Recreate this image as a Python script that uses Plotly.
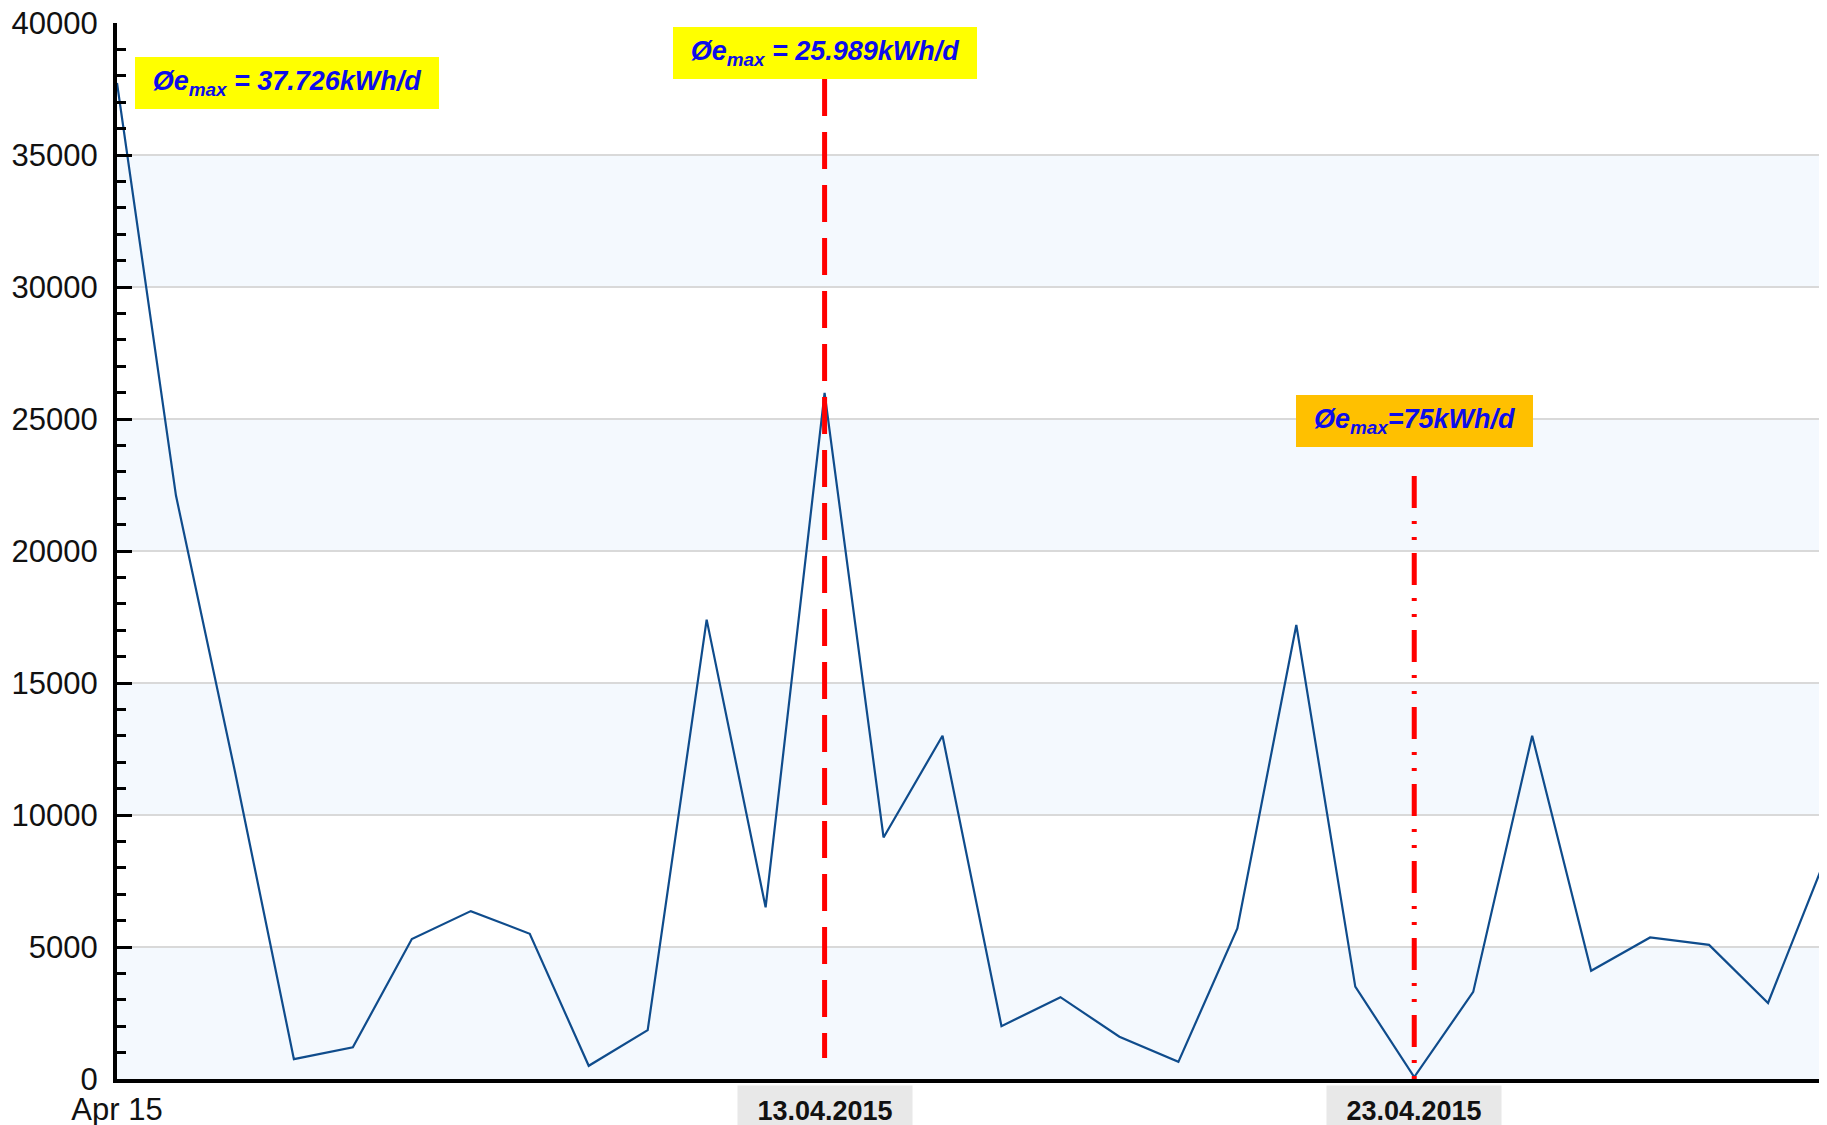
import plotly.graph_objects as go

# ---- data ----
dates = [f"2015-04-{d:02d}" for d in range(1, 31)]
energy = [37726, 22100, 11650, 750, 1200, 5300, 6360, 5500, 500, 1850,
          17400, 6500, 25989, 9150, 13000, 2000, 3100, 1600, 650, 5700,
          17200, 3500, 75, 3300, 13000, 4100, 5360, 5080, 2880, 8500]

y_ticks = [0, 5000, 10000, 15000, 20000, 25000, 30000, 35000, 40000]
y_tick_text = ["0", "5000", "10000", "15000", "20000", "25000", "30000",
               "35000", "40000"]
x_tick_dates = ["2015-04-01"]
x_tick_text = ["Apr 15"]

band_starts = [0, 10000, 20000, 30000]
band_height = 5000

marker_dates = ["2015-04-13", "2015-04-23"]
marker_labels = ["13.04.2015", "23.04.2015"]
marker_tops = [37880, 22840]
marker_bottoms = [795, 0]
marker_dash = ["37px,16px", "32px,13px,3px,13px,3px,13px"]

box_texts = ["Øe<sub>max</sub> = 37.726kWh/d",
             "Øe<sub>max</sub> = 25.989kWh/d",
             "Øe<sub>max</sub>=75kWh/d"]
box_x = ["2015-04-03 21:00", "2015-04-13", "2015-04-23"]
box_y = [37726, 38864, 24924]
box_w = [304, 304, 237]
box_colors = ["#ffff00", "#ffff00", "#ffc000"]

fig = go.Figure()
fig.add_trace(go.Scatter(
    x=dates, y=energy, mode="lines",
    line=dict(color="#0f4c8c", width=2.2),
    showlegend=False, hoverinfo="x+y"))

shapes = []
for b in band_starts:
    shapes.append(dict(type="rect", xref="paper", yref="y", x0=0, x1=1,
                       y0=b, y1=b + band_height, fillcolor="#f4f9fe",
                       line=dict(width=0), layer="below"))
for d, top, bot, dash in zip(marker_dates, marker_tops, marker_bottoms,
                             marker_dash):
    shapes.append(dict(type="line", xref="x", yref="y", x0=d, x1=d,
                       y0=top, y1=bot,
                       line=dict(color="#ff0000", width=5, dash=dash),
                       layer="above"))

annotations = []
for t, x, y, w, c in zip(box_texts, box_x, box_y, box_w, box_colors):
    annotations.append(dict(
        x=x, y=y, xref="x", yref="y", text=f"<b><i>{t}</i></b>",
        showarrow=False, bgcolor=c, width=w, height=52, borderpad=0,
        borderwidth=0, xanchor="center", yanchor="middle",
        font=dict(family="Liberation Sans, Arial", size=27, color="#0d0dea")))
for d, lab in zip(marker_dates, marker_labels):
    annotations.append(dict(
        x=d, y=-0.006, xref="x", yref="paper", text=f"<b>{lab}</b>",
        showarrow=False, bgcolor="#e8e8e8", width=154, borderpad=10,
        xanchor="center", yanchor="top",
        font=dict(family="Liberation Sans, Arial", size=27, color="#111111")))

# the page body adds an 8px offset; size the figure so the plot lands
# where the reference places it in the 1827x1125 window
fig.update_layout(
    width=1819, height=1117,
    margin=dict(l=109, r=0, t=15, b=46, autoexpand=False),
    paper_bgcolor="white", plot_bgcolor="white",
    shapes=shapes, annotations=annotations,
    font=dict(family="Liberation Sans, Arial", size=31, color="#111111"),
    xaxis=dict(type="date", range=["2015-04-01", "2015-04-30"],
               tickmode="array", tickvals=x_tick_dates, ticktext=x_tick_text,
               ticks="", showgrid=False, zeroline=False, automargin=False,
               showline=True, linecolor="black", linewidth=4,
               tickfont=dict(size=31, color="#111111")),
    yaxis=dict(range=[0, 40000], tickmode="array", tickvals=y_ticks,
               ticktext=y_tick_text, automargin=False,
               ticklabeloverflow="allow",
               ticks="inside", ticklen=15, tickwidth=3, tickcolor="black",
               minor=dict(dtick=1000, ticks="inside", ticklen=9,
                          tickwidth=3, tickcolor="black", showgrid=False),
               showgrid=True, gridcolor="#d9d9d9", gridwidth=2,
               zeroline=False, showline=True, linecolor="black",
               linewidth=4, ticklabelstandoff=9,
               tickfont=dict(size=31, color="#111111")),
)

fig.write_html("out.html")
